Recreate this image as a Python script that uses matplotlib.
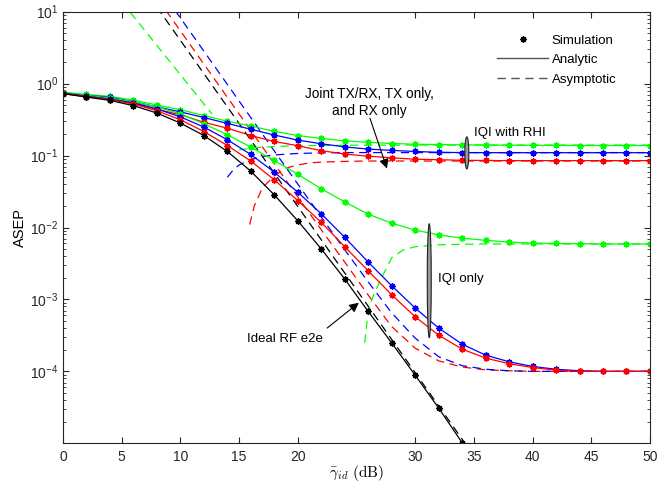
import numpy as np
import matplotlib
matplotlib.use("Agg")
import matplotlib.pyplot as plt
from matplotlib.lines import Line2D
from matplotlib.patches import Ellipse
from matplotlib.ticker import LogLocator, NullFormatter, FixedLocator

plt.rcParams['font.family'] = ['Liberation Sans', 'DejaVu Sans']
plt.rcParams['mathtext.fontset'] = 'custom'
plt.rcParams['mathtext.rm'] = 'Liberation Sans'
plt.rcParams['mathtext.it'] = 'Liberation Sans:italic'
plt.rcParams['mathtext.bf'] = 'Liberation Sans:bold'
plt.rcParams['lines.scale_dashes'] = False

# simulation / analytic points, every 2 dB
snr = np.arange(0, 51, 2)
snr_ideal = np.arange(0, 35, 2)
ideal = [0.726, 0.65, 0.585, 0.494, 0.39, 0.283, 0.19, 0.114, 0.0607, 0.0284,
         0.0124, 0.00503, 0.00192, 6.8e-4, 2.49e-4, 8.85e-5, 3.09e-5, 1.02e-5]
red_iqi = [0.73, 0.66, 0.60, 0.52, 0.42, 0.315, 0.216, 0.138, 0.084, 0.046,
           0.0237, 0.0118, 0.0054, 0.0025, 0.00116, 5.74e-4, 3.19e-4, 2.04e-4,
           1.53e-4, 1.28e-4, 1.13e-4, 1.04e-4, 1.0e-4, 1.0e-4, 1.0e-4, 1.0e-4]
blue_iqi = [0.74, 0.67, 0.61, 0.54, 0.445, 0.345, 0.249, 0.166, 0.1035, 0.0588,
            0.031, 0.0155, 0.0073, 0.0033, 0.00155, 7.6e-4, 4.0e-4, 2.39e-4,
            1.68e-4, 1.36e-4, 1.17e-4, 1.07e-4, 1.02e-4, 1.0e-4, 1.0e-4, 1.0e-4]
green_iqi = [0.75, 0.69, 0.63, 0.56, 0.475, 0.38, 0.277, 0.195, 0.131, 0.0855,
             0.055, 0.0345, 0.0227, 0.0153, 0.0115, 0.0092, 0.0079, 0.0071,
             0.00664, 0.00627, 0.00609, 0.0060, 0.00595, 0.0059, 0.0059, 0.0059]
red_rhi = [0.726, 0.66, 0.61, 0.53, 0.44, 0.37, 0.29, 0.24, 0.19, 0.157,
           0.137, 0.117, 0.105, 0.098, 0.093, 0.089, 0.0876, 0.086, 0.0855,
           0.085, 0.085, 0.085, 0.085, 0.085, 0.085, 0.085]
blue_rhi = [0.74, 0.69, 0.645, 0.56, 0.475, 0.405, 0.338, 0.28, 0.232, 0.193,
            0.164, 0.146, 0.132, 0.123, 0.118, 0.114, 0.111, 0.110, 0.1097,
            0.1097, 0.1097, 0.1097, 0.1097, 0.1097, 0.1097, 0.1097]
green_rhi = [0.757, 0.709, 0.665, 0.59, 0.505, 0.434, 0.36, 0.30, 0.258, 0.217,
             0.19, 0.173, 0.16, 0.153, 0.147, 0.144, 0.142, 0.141, 0.14,
             0.1395, 0.139, 0.1385, 0.138, 0.138, 0.138, 0.138]

# asymptotic curves
snr_asy_ideal = np.arange(8, 37, 2)
ideal_asy = [11.6, 4.0, 1.38, 0.476, 0.164, 0.0568, 0.0196, 0.00676, 0.00233,
             8.05e-4, 2.78e-4, 9.6e-5, 3.31e-5, 1.14e-5, 3.9e-6]
snr_asy = np.arange(8, 51, 2)
red_iqi_asy = [15.7, 5.42, 1.87, 0.646, 0.223, 0.0769, 0.0266, 0.0093, 0.0033,
               1.15e-3, 4.2e-4, 2.1e-4, 1.4e-4, 1.15e-4, 1.05e-4, 1.02e-4,
               1.0e-4, 1.0e-4, 1.0e-4, 1.0e-4, 1.0e-4, 1.0e-4]
blue_iqi_asy = [23.8, 8.2, 2.83, 0.977, 0.337, 0.116, 0.0402, 0.014, 0.0049,
                1.75e-3, 6.5e-4, 2.9e-4, 1.6e-4, 1.2e-4, 1.07e-4, 1.02e-4,
                1.0e-4, 1.0e-4, 1.0e-4, 1.0e-4, 1.0e-4, 1.0e-4]
snr_green_hi = [5, 6, 8, 10, 12, 12.7]
green_iqi_asy_hi = [13.8, 8.63, 3.39, 1.33, 0.522, 0.377]
snr_green_lo = [25.7, 26, 26.5, 27, 28, 29, 30, 32, 34, 36, 40, 44, 48, 50]
green_iqi_asy_lo = [2.5e-4, 7.0e-4, 1.2e-3, 1.8e-3, 3.8e-3, 4.9e-3, 5.4e-3,
                    5.75e-3, 5.85e-3, 5.9e-3, 5.9e-3, 5.9e-3, 5.9e-3, 5.9e-3]
snr_red_rhi_asy = [15.9, 16.3, 17, 18, 19, 20, 21, 22, 24, 26, 30, 40, 50]
red_rhi_asy = [0.011, 0.02, 0.036, 0.052, 0.067, 0.074, 0.079, 0.081, 0.083,
               0.084, 0.084, 0.084, 0.084]
snr_blue_rhi_asy = [14, 14.5, 15, 16, 17, 18, 20, 22, 24, 30, 40, 50]
blue_rhi_asy = [0.05, 0.063, 0.074, 0.088, 0.097, 0.102, 0.107, 0.109, 0.11,
                0.11, 0.11, 0.11]
snr_green_rhi_asy = [15, 16, 18, 20, 24, 30, 40, 50]
green_rhi_asy = [0.12, 0.127, 0.134, 0.137, 0.139, 0.14, 0.14, 0.14]

RED, BLUE, GREEN = '#ff0000', '#0000ff', '#00ff00'
DASH = (0, (6, 4))
MK = (8, 2, 0)

fig = plt.figure(figsize=(6.58, 4.83), dpi=100)
ax = fig.add_axes([0.0957, 0.0828, 0.8921, 0.893])

# asymptotes
ax.plot(snr_asy_ideal, ideal_asy, color='k', ls=DASH, lw=0.9)
ax.plot(snr_asy, red_iqi_asy, color=RED, ls=DASH, lw=0.9)
ax.plot(snr_asy, blue_iqi_asy, color=BLUE, ls=DASH, lw=0.9)
ax.plot(snr_green_hi, green_iqi_asy_hi, color=GREEN, ls=DASH, lw=0.9)
ax.plot(snr_green_lo, green_iqi_asy_lo, color=GREEN, ls=DASH, lw=0.9)
ax.plot(snr_red_rhi_asy, red_rhi_asy, color=RED, ls=DASH, lw=0.9)
ax.plot(snr_blue_rhi_asy, blue_rhi_asy, color=BLUE, ls=DASH, lw=0.9)
ax.plot(snr_green_rhi_asy, green_rhi_asy, color=GREEN, ls=DASH, lw=0.9)

# analytic + simulation
for y, c in [(green_rhi, GREEN), (blue_rhi, BLUE), (red_rhi, RED),
             (green_iqi, GREEN), (blue_iqi, BLUE), (red_iqi, RED)]:
    ax.plot(snr, y, color=c, lw=0.9, marker=MK, ms=4.5, mew=1.0)
ax.plot(snr_ideal, ideal, color='k', lw=0.9, marker=MK, ms=4.5, mew=1.0)

ax.set_yscale('log')
ax.set_xlim(0, 50)
ax.set_ylim(1.0e-5 * 1.01, 10)
ax.set_xticks([0, 5, 10, 15, 20, 30, 35, 40, 45, 50])
ax.yaxis.set_major_locator(FixedLocator([1e-4, 1e-3, 1e-2, 1e-1, 1, 10]))
ax.yaxis.set_minor_locator(LogLocator(base=10, subs=np.arange(2, 10), numticks=20))
ax.yaxis.set_minor_formatter(NullFormatter())
ax.set_yticklabels([r'$10^{-4}$', r'$10^{-3}$', r'$10^{-2}$', r'$10^{-1}$',
                    r'$10^{0}$', r'$10^{1}$'])
ax.tick_params(which='both', direction='in', top=True, right=True,
               labelsize=10, colors='#262626')
ax.tick_params(which='major', length=4.5, width=0.8)
ax.tick_params(which='minor', length=2.5, width=0.6)
ax.tick_params(axis='x', pad=5)
for s in ax.spines.values():
    s.set_linewidth(0.8)
    s.set_color('#262626')

ax.set_ylabel('ASEP', fontsize=10.5, labelpad=2)
ax.set_xlabel(r'$\bar{\gamma}_{id}\ \mathrm{(dB)}$', fontsize=11,
              math_fontfamily='cm', labelpad=-1)

# annotations
ax.text(26.1, 0.55, 'Joint TX/RX, TX only,\nand RX only', ha='center',
        va='center', fontsize=9.8, linespacing=1.3)
ax.annotate('', xy=(27.6, 0.066), xytext=(26.15, 0.33),
            arrowprops=dict(arrowstyle='-|>', color='k', lw=0.8,
                            mutation_scale=14, shrinkA=0, shrinkB=0))
ax.text(35.0, 0.203, 'IQI with RHI', ha='left', va='center', fontsize=9.5)
ax.text(31.95, 1.92e-3, 'IQI only', ha='left', va='center', fontsize=9.5)
ax.text(15.65, 2.86e-4, 'Ideal RF e2e', ha='left', va='center', fontsize=9.5)
ax.annotate('', xy=(25.2, 9.0e-4), xytext=(22.5, 4.0e-4),
            arrowprops=dict(arrowstyle='-|>', color='k', lw=0.8,
                            mutation_scale=14, shrinkA=0, shrinkB=0))

inv = ax.transAxes.inverted()
for (cx, cy), h in [((34.4, 0.109), 32), ((31.2, 1.82e-3), 114)]:
    px = ax.transData.transform((cx, cy))
    ex, ey = inv.transform(px)
    ax.add_patch(Ellipse((ex, ey), 4.0 / 587, h / 431.3, transform=ax.transAxes,
                         facecolor='#9a9a9a', edgecolor='#202020', lw=0.8,
                         zorder=5))

handles = [Line2D([], [], color='k', ls='none', marker=MK, ms=4.5, mew=1.0),
           Line2D([], [], color='#555555', lw=1.0),
           Line2D([], [], color='#555555', lw=1.0, ls=DASH)]
ax.legend(handles, ['Simulation', 'Analytic', 'Asymptotic'], loc='upper left',
          bbox_to_anchor=(0.72, 0.975), frameon=False, fontsize=9.5,
          handlelength=3.8, handletextpad=0.3, labelspacing=0.55)

fig.savefig('out.png', dpi=100)
